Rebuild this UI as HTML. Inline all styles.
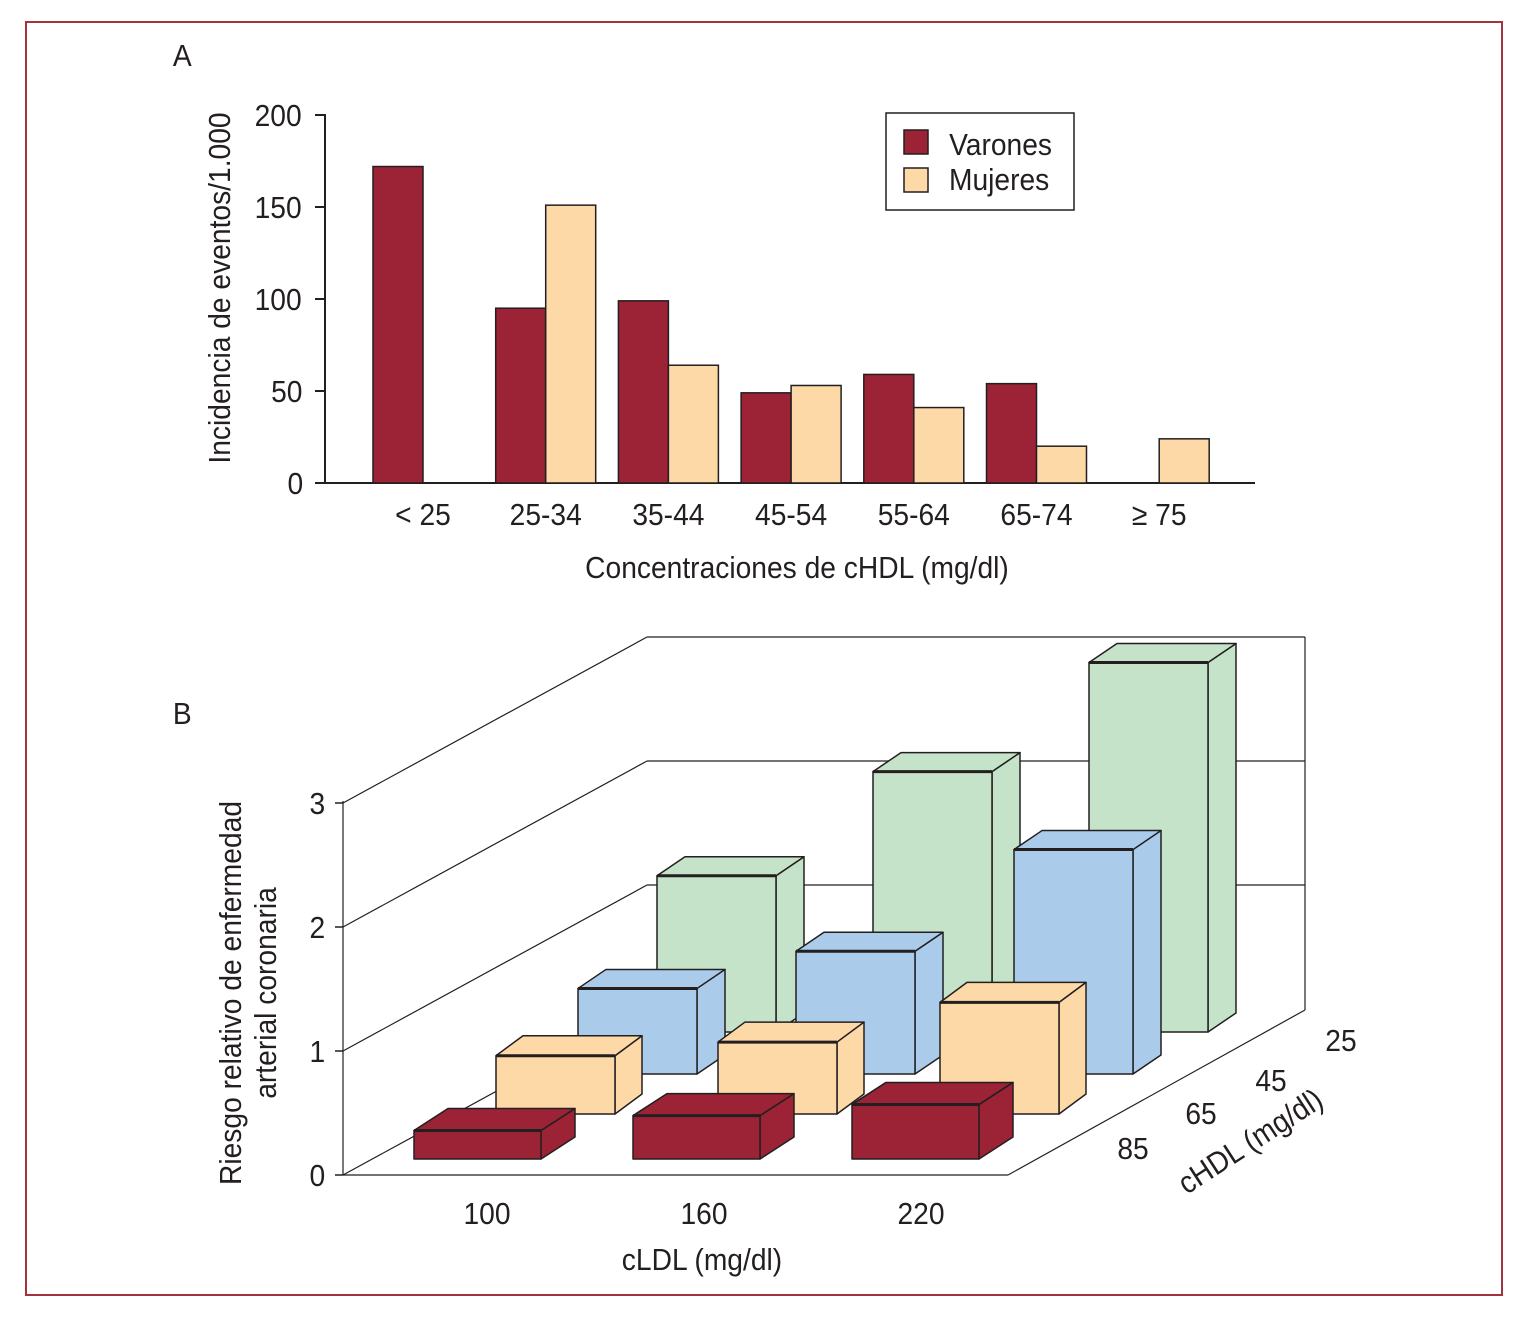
<!DOCTYPE html>
<html><head><meta charset="utf-8"><style>
html,body{margin:0;padding:0;background:#fff}
svg{display:block}
text{font-family:"Liberation Sans Narrow","Liberation Sans",sans-serif;fill:#231f20;transform-box:fill-box;transform-origin:center;transform:scaleX(0.91)}
</style></head><body>
<svg id="s" width="1525" height="1320" viewBox="0 0 1525 1320" xmlns="http://www.w3.org/2000/svg">
<rect x="26" y="22" width="1476" height="1273" fill="none" stroke="#a3323f" stroke-width="2"/>
<text x="172" y="66" font-size="31">A</text>
<text x="172" y="724" font-size="31">B</text>
<g id="chartA"></g>
<g id="chartB"></g>
</svg>
<script>
// ---- Chart A data ----
const catsA = ["< 25","25-34","35-44","45-54","55-64","65-74","\u2265 75"];
const varones = [172,95,99,49,59,54,0];
const mujeres = [0,151,64,53,41,20,24];
const ticksA = [0,50,100,150,200];
// ---- Chart B data ----
const ldlCats = ["100","160","220"];
const hdlCats = ["85","65","45","25"];
const riskHdl85 = [0.23,0.35,0.44];
const riskHdl65 = [0.47,0.58,0.9];
const riskHdl45 = [0.69,0.99,1.81];
const riskHdl25 = [1.26,2.1,2.98];
const ticksB = [0,1,2,3];

const NS="http://www.w3.org/2000/svg";
const FS=31;
function mk(parent,tag,attrs,txt){const e=document.createElementNS(NS,tag);for(const k in attrs)e.setAttribute(k,attrs[k]);if(txt!==undefined)e.textContent=txt;parent.appendChild(e);return e;}
function rotText(parent,tx,ty,ang,str,name){
  const gg=mk(parent,'g',{transform:`translate(${tx},${ty}) rotate(${ang})`});
  const t=mk(gg,'text',{x:0,y:0,'font-size':FS,'text-anchor':'middle'},str);
  
  
  return t;
}

// ---- Chart A ----
(function(){
const g=document.getElementById('chartA');
const y0=483, yTop=115, vmax=200, xLeft=325, xRight=1255, cx0=423, step=122.7, bw=50;
const ys=v=>y0-(v/vmax)*(y0-yTop);
const xc=i=>cx0+i*step;
let e=mk(g,'line',{x1:xLeft,y1:yTop-1,x2:xLeft,y2:y0,stroke:'#231f20','stroke-width':2});


e=mk(g,'line',{x1:xLeft,y1:y0,x2:xRight,y2:y0,stroke:'#231f20','stroke-width':2});


ticksA.forEach(t=>{
  let l=mk(g,'line',{x1:xLeft-10,y1:ys(t),x2:xLeft,y2:ys(t),stroke:'#231f20','stroke-width':2});
  
  
  let tx=mk(g,'text',{x:304,y:ys(t)+11,'font-size':FS,'text-anchor':'end'},String(t));
  
  
});
catsA.forEach((c,i)=>{
  if(varones[i]>0){
    let r=mk(g,'rect',{x:xc(i)-bw,y:ys(varones[i]),width:bw,height:y0-ys(varones[i]),fill:'#9b2335',stroke:'#231f20','stroke-width':1.5});
    
    
  }
  if(mujeres[i]>0){
    let r=mk(g,'rect',{x:xc(i),y:ys(mujeres[i]),width:bw,height:y0-ys(mujeres[i]),fill:'#fdd9a8',stroke:'#231f20','stroke-width':1.5});
    
    
  }
  let tx=mk(g,'text',{x:xc(i),y:525,'font-size':FS,'text-anchor':'middle'},c);
  
  
});
let t=mk(g,'text',{x:797,y:578,'font-size':FS,'text-anchor':'middle'},'Concentraciones de cHDL (mg/dl)');


rotText(g,230,288,-90,'Incidencia de eventos/1.000','y-axis-title-a');
const lg=mk(g,'g',{});


mk(lg,'rect',{x:886,y:113,width:188,height:97,fill:'#fff',stroke:'#231f20','stroke-width':1.5});
let s=mk(lg,'rect',{x:904,y:130,width:24,height:24,fill:'#9b2335',stroke:'#231f20','stroke-width':1.5});


let lt=mk(lg,'text',{x:944,y:155,'font-size':FS},'Varones');


s=mk(lg,'rect',{x:904,y:168,width:24,height:24,fill:'#fdd9a8',stroke:'#231f20','stroke-width':1.5});


lt=mk(lg,'text',{x:944,y:190,'font-size':FS},'Mujeres');


})();

// ---- Chart B ----
(function(){
const g=document.getElementById('chartB');
const scale=124, fy0=1175, fx0=343, dX=304, dY=-166;
const st={stroke:'#231f20','stroke-width':1.2,fill:'none'};
const frame=[[fx0+dX,fy0-3*scale+dY,1305,fy0-3*scale+dY],[1305,637,1305,1010],[343,1175,1008,1175],[1008,1175,1305,1010],[343,801,343,1175]];
frame.forEach(f=>{let l=mk(g,'line',Object.assign({x1:f[0],y1:f[1],x2:f[2],y2:f[3]},st));});
ticksB.forEach(t=>{
  const y=fy0-t*scale;
  let l=mk(g,'line',Object.assign({x1:fx0,y1:y,x2:fx0+dX,y2:y+dY},st));
  
  
  if(t>0&&t<3){let b=mk(g,'line',Object.assign({x1:fx0+dX,y1:y+dY,x2:1305,y2:y+dY},st));}
  let tk=mk(g,'line',{x1:fx0-8,y1:y,x2:fx0,y2:y,stroke:'#231f20','stroke-width':1.5});
  
  
  let tx=mk(g,'text',{x:326,y:y+11,'font-size':FS,'text-anchor':'end'},String(t));
  
  
});
const series=[riskHdl85,riskHdl65,riskHdl45,riskHdl25];
const colors=['#9b2335','#fdd9a8','#abcbeb','#c5e3c8'];
const rows=[{x0:414,step:219,w:127,by:1159,dx:34,dy:-22},{x0:496,step:222,w:119,by:1114,dx:27,dy:-20},{x0:578,step:218,w:119,by:1074,dx:28,dy:-19},{x0:657,step:216,w:119,by:1032,dx:28,dy:-19}];
for(let r=3;r>=0;r--){
  const p=rows[r], vals=series[r];
  vals.forEach((v,c)=>{
    const x=p.x0+c*p.step, h=v*scale, top=p.by-h;
    const bg=mk(g,'g',{});
    
    
    const s={fill:colors[r],stroke:'#231f20','stroke-width':1.5,'stroke-linejoin':'round'};
    mk(bg,'polygon',Object.assign({points:`${x+p.w},${top} ${x+p.w+p.dx},${top+p.dy} ${x+p.w+p.dx},${p.by+p.dy} ${x+p.w},${p.by}`},s));
    mk(bg,'polygon',Object.assign({points:`${x},${top} ${x+p.dx},${top+p.dy} ${x+p.w+p.dx},${top+p.dy} ${x+p.w},${top}`},s));
    mk(bg,'rect',Object.assign({x:x,y:top,width:p.w,height:h},s));
    mk(bg,'line',{x1:x,y1:top,x2:x+p.w,y2:top,stroke:'#231f20','stroke-width':3});
  });
}
ldlCats.forEach((c,i)=>{
  let tx=mk(g,'text',{x:487+i*217,y:1224,'font-size':FS,'text-anchor':'middle'},c);
  
  
});
const hpos=[[1133,1159],[1201,1124],[1271,1091],[1341,1051]];
hdlCats.forEach((c,i)=>{
  let tx=mk(g,'text',{x:hpos[i][0],y:hpos[i][1],'font-size':FS,'text-anchor':'middle'},c);
  
  
});
let t=mk(g,'text',{x:702,y:1270,'font-size':FS,'text-anchor':'middle'},'cLDL (mg/dl)');


rotText(g,1256,1150,-33,'cHDL (mg/dl)','depth-axis-title');
rotText(g,241,993,-90,'Riesgo relativo de enfermedad','y-axis-title-b-line1');
rotText(g,276,993,-90,'arterial coronaria','y-axis-title-b-line2');
})();
</script>
</body></html>
